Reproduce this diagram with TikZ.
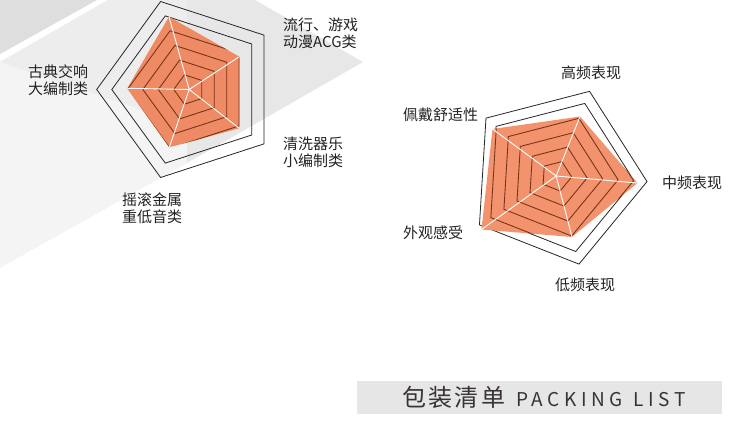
\documentclass[tikz,border=0pt]{standalone}
\usepackage{fontspec}
\setmainfont{Noto Sans CJK SC}
\usepackage{tikz}
\usepackage{xcolor}
\definecolor{bgdark}{HTML}{DEDEDE}
\definecolor{bgmid}{HTML}{E7E7E7}
\definecolor{bglight}{HTML}{F4F4F4}
\definecolor{bgband}{HTML}{EDEDED}
\definecolor{fillleft}{HTML}{EE8A64}
\definecolor{fillright}{HTML}{F3936D}
\definecolor{gridbrown}{HTML}{7A3418}
\definecolor{labeltext}{HTML}{222222}
\definecolor{bannergrey}{HTML}{E6E6E6}
\definecolor{bannertext}{HTML}{3A3333}
\tikzset{
    outline-line/.style = {draw=black!85, line width=0.8pt},
    grid-line/.style = {draw=gridbrown, line width=0.9pt},
    spoke-line/.style = {draw=white, line width=0.9pt},
    axis-label/.style = {anchor=west, inner sep=0pt, align=left, text=labeltext, font=\fontsize{15}{17}\selectfont},
    banner-box/.style = {fill=bannergrey, draw=none, anchor=north west, minimum width=365pt, minimum height=33pt, inner sep=0pt},
    banner-text/.style = {anchor=west, inner sep=0pt, text=bannertext},
}

\begin{document}
\begin{tikzpicture}[x=1pt, y=-1pt]
\useasboundingbox (0,0) rectangle (750,441);
\fill[white] (0,0) rectangle (750,441);

% grey shapes behind the left chart
\fill[bglight] (0,62) -- (108,0) -- (187,0) -- (187,163) -- (0,268) -- cycle;
\fill[bgband] (108,0) -- (187,0) -- (187,125) -- (0,62) -- cycle;
\fill[bgmid] (187,0) -- (255,0) -- (363,62) -- (187,163) -- cycle;
\fill[bgdark] (0,0) -- (97,0) -- (0,54) -- cycle;

% left radar
\coordinate (lcen) at (189.2,89.5);
\coordinate (lv-classic) at (127.3,88.3);
\coordinate (lv-top) at (169,16.7);
\coordinate (lv-pop) at (239.3,56.7);
\coordinate (lv-acoustic) at (239.3,128.3);
\coordinate (lv-rock) at (169.3,147.3);

\foreach \r in {92.5,77.4} {
    \draw[outline-line, shift={(lcen)}] (36:\r) \foreach \a in {108,180,252,324} { -- (\a:\r) } -- cycle;
}
\fill[fillleft] (lv-classic) -- (lv-top) -- (lv-pop) -- (lv-acoustic) -- (lv-rock) -- cycle;
\begin{scope}
    \clip (lv-classic) -- (lv-top) -- (lv-pop) -- (lv-acoustic) -- (lv-rock) -- cycle;
    \foreach \k in {1,...,4} {
        \pgfmathsetmacro\rr{15.45*\k}
        \draw[grid-line, shift={(lcen)}] (36:\rr) \foreach \a in {108,180,252,324} { -- (\a:\rr) } -- cycle;
    }
\end{scope}
\foreach \v in {lv-classic,lv-top,lv-pop,lv-acoustic,lv-rock}
    \draw[spoke-line] (lcen) -- (\v);

\node[axis-label] (pop-label) at (283,33.5) {流行、游戏\\动漫ACG类};
\node[axis-label] (classic-label) at (28,80.5) {古典交响\\大编制类};
\node[axis-label] (acoustic-label) at (283,152.5) {清洗器乐\\小编制类};
\node[axis-label] (rock-label) at (122,208) {摇滚金属\\重低音类};

% right radar
\coordinate (rcen) at (556.2,176);
\coordinate (rv-high) at (580,116.5);
\coordinate (rv-comfort) at (492.5,129);
\coordinate (rv-look) at (481.5,229.5);
\coordinate (rv-low) at (572,237);
\coordinate (rv-mid) at (637.5,183);

\foreach \r in {91,78} {
    \draw[outline-line, shift={(rcen)}] (3.5:\r) \foreach \a in {75.5,147.5,219.5,291.5} { -- (\a:\r) } -- cycle;
}
\fill[fillright] (rv-high) -- (rv-comfort) -- (rv-look) -- (rv-low) -- (rv-mid) -- cycle;
\begin{scope}
    \clip (rv-high) -- (rv-comfort) -- (rv-look) -- (rv-low) -- (rv-mid) -- cycle;
    \foreach \k in {1,...,5} {
        \pgfmathsetmacro\rr{15.5*\k}
        \draw[grid-line, shift={(rcen)}] (3.5:\rr) \foreach \a in {75.5,147.5,219.5,291.5} { -- (\a:\rr) } -- cycle;
    }
\end{scope}
\foreach \v in {rv-high,rv-comfort,rv-look,rv-low,rv-mid}
    \draw[spoke-line] (rcen) -- (\v);

\node[axis-label] (high-label) at (561,73) {高频表现};
\node[axis-label] (comfort-label) at (403,115) {佩戴舒适性};
\node[axis-label] (mid-label) at (662,183) {中频表现};
\node[axis-label] (look-label) at (403,233) {外观感受};
\node[axis-label] (low-label) at (555,285) {低频表现};

% packing list banner
\node[banner-box] (banner) at (357,381) {};
\node[banner-text] (banner-title) at (402,397.5) {{\fontsize{24}{26}\selectfont\addfontfeature{LetterSpace=10}包装清单}\hspace{11pt}{\fontsize{19}{22}\selectfont\addfontfeature{LetterSpace=24}PACKING\hspace{11pt}LIST}};
\end{tikzpicture}
\end{document}
